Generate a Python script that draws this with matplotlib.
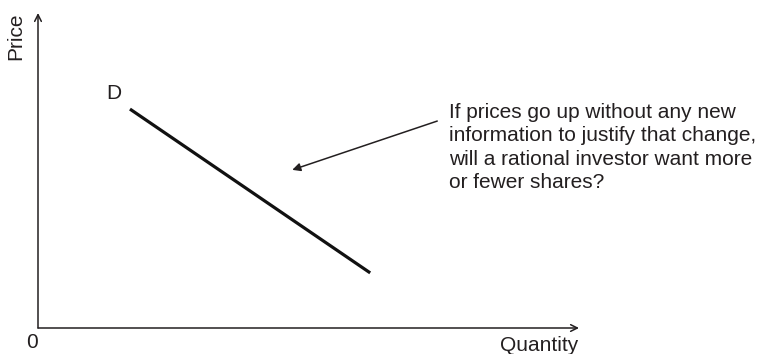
import matplotlib.pyplot as plt

plt.rcParams['font.family'] = ['Liberation Sans', 'DejaVu Sans']

# demand curve end points (quantity, price) on a 0-100 scale
quantity = [17, 61.4]
price = [69.5, 17.5]

note = ("If prices go up without any new\n"
        "information to justify that change,\n"
        "will a rational investor want more\n"
        "or fewer shares?")
arrow_from = (73.8, 65.7)
arrow_to = (47.0, 50.2)

ink = '#231f20'

fig = plt.figure(figsize=(7.64, 3.54), dpi=100)
ax = fig.add_axes([38 / 764, 26 / 354, 541 / 764, 315 / 354])
ax.set_xlim(0, 100)
ax.set_ylim(0, 100)
ax.axis('off')

# axes drawn as arrows from the origin
ax.annotate('', xy=(100, 0), xytext=(0, 0),
            arrowprops=dict(arrowstyle='->', color=ink, lw=1.1,
                            shrinkA=0, shrinkB=0, mutation_scale=12))
ax.annotate('', xy=(0, 100), xytext=(0, 0),
            arrowprops=dict(arrowstyle='->', color=ink, lw=1.1,
                            shrinkA=0, shrinkB=0, mutation_scale=12))

ax.plot(quantity, price, color='#111111', lw=2.3, solid_capstyle='butt')
ax.text(quantity[0] - 3, price[0] + 2, 'D', fontsize=15, color=ink,
        ha='center', va='bottom')

ax.text(-1.2, -1.5, '0', fontsize=15, color=ink, ha='center', va='top',
        clip_on=False)
ax.text(99.8, -2.5, 'Quantity', fontsize=15, color=ink, ha='right', va='top',
        clip_on=False)
ax.text(-4.2, 100, 'Price', fontsize=15, color=ink, ha='center', va='top',
        rotation=90, clip_on=False)

ax.annotate('', xy=arrow_to, xytext=arrow_from,
            arrowprops=dict(arrowstyle='-|>', color=ink, lw=1.1,
                            shrinkA=0, shrinkB=0, mutation_scale=12))
ax.text(76, 71.5, note, fontsize=15, color=ink, ha='left', va='top',
        linespacing=1.3)

fig.savefig('out.png', dpi=100)
